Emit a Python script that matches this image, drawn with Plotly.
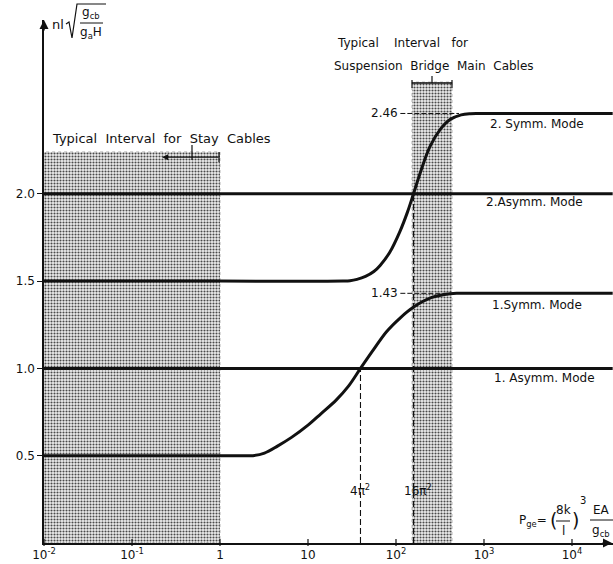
import numpy as np
import plotly.graph_objects as go

# ---------------- data ----------------
x_ticks = [0.01, 0.1, 1, 10, 100, 1000, 10000]
x_ticklabels = ["10<sup>-2</sup>", "10<sup>-1</sup>", "1", "10", "10<sup>2</sup>", "10<sup>3</sup>", "10<sup>4</sup>"]
y_ticks = [0.5, 1.0, 1.5, 2.0]
y_ticklabels = ["0.5", "1.0", "1.5", "2.0"]

# first asymmetric / second asymmetric modes (constant)
x_asym = [0.01, 29000]
y_asym1 = [1.0, 1.0]
y_asym2 = [2.0, 2.0]

# first symmetric mode
x_sym1 = [0.01, 1.0, 2.0, 2.37, 3.2, 4.5, 6.5, 10, 14, 21, 29, 39.5, 56, 78, 112, 157, 251, 411, 560, 29000]
y_sym1 = [0.5, 0.5, 0.5, 0.5, 0.515, 0.555, 0.605, 0.675, 0.74, 0.82, 0.90, 1.0, 1.11, 1.21, 1.29, 1.35, 1.405, 1.428, 1.43, 1.43]

# second symmetric mode
x_sym2 = [0.01, 1.0, 25, 30, 36, 45, 56, 66, 85, 111, 135, 158, 190, 243, 320, 411, 550, 700, 900, 29000]
y_sym2 = [1.5, 1.5, 1.5, 1.502, 1.51, 1.527, 1.555, 1.59, 1.665, 1.785, 1.895, 2.00, 2.125, 2.27, 2.37, 2.425, 2.452, 2.459, 2.46, 2.46]

# typical intervals
stay_interval = [0.01, 1.0]
stay_top = 2.24
susp_interval = [152, 433]
susp_top = 2.64

four_pi2 = 4 * np.pi ** 2
sixteen_pi2 = 16 * np.pi ** 2
sym1_limit = 1.43
sym2_limit = 2.46

# ---------------- layout geometry ----------------
W, H = 613, 564
L, R, T, B = 44, 0, 20, 21
X_RANGE = [-2, 4.466]
Y_RANGE = [0, (H - B - T) / 174.6]


def px(xp):
    return (xp - L) / (W - L - R)


def py(yp):
    return (H - B - yp) / (H - T - B)


FONT = "DejaVu Sans"
BLACK = "#111111"

fig = go.Figure()

# shaded intervals
pattern = dict(shape=".", size=3, solidity=0.4, fgcolor="#4a4a4a", bgcolor="#efefef", fillmode="replace")
for (xa, xb), top in [(stay_interval, stay_top), (susp_interval, susp_top)]:
    fig.add_trace(go.Scatter(
        x=[xa, xb, xb, xa, xa], y=[0, 0, top, top, 0],
        mode="lines", line=dict(width=0.6, color="#888888", dash="dot"),
        fill="toself", fillpattern=pattern, fillcolor="#bbbbbb",
        hoverinfo="skip", showlegend=False))

# dashed reference lines
dash_style = dict(color=BLACK, width=1.1, dash="6px,3px")
fig.add_trace(go.Scatter(x=[four_pi2, four_pi2], y=[0, y_asym1[0]], mode="lines",
                         line=dash_style, showlegend=False, hoverinfo="skip"))
fig.add_trace(go.Scatter(x=[sixteen_pi2, sixteen_pi2], y=[0, y_asym2[0]], mode="lines",
                         line=dash_style, showlegend=False, hoverinfo="skip"))
fig.add_trace(go.Scatter(x=[112, 520], y=[sym2_limit, sym2_limit], mode="lines",
                         line=dict(color=BLACK, width=1, dash="5px,2px"), showlegend=False, hoverinfo="skip"))
fig.add_trace(go.Scatter(x=[112, 420], y=[sym1_limit, sym1_limit], mode="lines",
                         line=dict(color=BLACK, width=1, dash="5px,2px"), showlegend=False, hoverinfo="skip"))

# mode curves
thick = dict(color=BLACK, width=3)
fig.add_trace(go.Scatter(x=x_asym, y=y_asym2, mode="lines", line=thick, showlegend=False))
fig.add_trace(go.Scatter(x=x_asym, y=y_asym1, mode="lines", line=thick, showlegend=False))
fig.add_trace(go.Scatter(x=x_sym1, y=y_sym1, mode="lines",
                         line=dict(color=BLACK, width=3, shape="spline", smoothing=1.0), showlegend=False))
fig.add_trace(go.Scatter(x=x_sym2, y=y_sym2, mode="lines",
                         line=dict(color=BLACK, width=3, shape="spline", smoothing=1.0), showlegend=False))

annotations = []


def txt(text, xp, yp, size=12, xanchor="center", yanchor="middle"):
    annotations.append(dict(text=text, x=px(xp), y=py(yp), xref="paper", yref="paper",
                            xanchor=xanchor, yanchor=yanchor, showarrow=False,
                            font=dict(family=FONT, size=size, color=BLACK)))


# mode labels
txt("2. Symm. Mode", 537, 124)
txt("2.Asymm. Mode", 534, 202)
txt("1.Symm. Mode", 537, 305)
txt("1. Asymm. Mode", 544, 378)

# limit values
for val in (sym2_limit, sym1_limit):
    annotations.append(dict(text=f"{val:.2f}", x=np.log10(110), y=val, xref="x", yref="y",
                            xanchor="right", yanchor="middle", showarrow=False,
                            font=dict(family=FONT, size=12, color=BLACK)))

# interval titles
txt("Typical  Interval  for  Stay  Cables", 50, 138, size=13, xanchor="left")
txt("Typical    Interval   for", 335, 43, xanchor="left")
txt("Suspension  Bridge  Main  Cables", 332, 66, xanchor="left")

# x markers
txt("4π<sup>2</sup>", 360, 490)
txt("16π<sup>2</sup>", 418, 490)

# x-axis title  P_ge = (8k/l)^3 EA/g_cb
txt("P<sub>ge</sub>=", 549, 521, size=12, xanchor="right")
txt("(", 553, 520, size=19)
txt("8k", 563, 510, size=12)
txt("l", 563, 531, size=12)
txt(")", 575, 520, size=19)
txt("3", 583, 500, size=10)
txt("EA", 601, 510, size=12)
txt("g<sub>cb</sub>", 601, 531, size=12)

# y-axis title  nl sqrt(g_cb / (g_a H))
txt("nl", 50, 24, size=13, xanchor="left")
txt("g<sub>cb</sub>", 91, 13, size=12)
txt("g<sub>a</sub>H", 91, 33, size=12)

# axis arrowheads
annotations.append(dict(x=px(W), y=py(H - B), xref="paper", yref="paper", ax=-12, ay=0,
                        showarrow=True, arrowhead=2, arrowsize=1.2, arrowwidth=1.5,
                        arrowcolor=BLACK, text=""))
annotations.append(dict(x=px(L), y=py(T), xref="paper", yref="paper", ax=0, ay=12,
                        showarrow=True, arrowhead=2, arrowsize=1.2, arrowwidth=1.5,
                        arrowcolor=BLACK, text=""))

# stay-cable bracket (arrow)
yb = stay_top - 0.03
annotations.append(dict(x=np.log10(0.22), y=yb, ax=np.log10(stay_interval[1]), ay=yb,
                        xref="x", yref="y", axref="x", ayref="y", showarrow=True,
                        arrowhead=2, arrowsize=1, arrowwidth=1.2, arrowcolor=BLACK, text=""))

fig.update_layout(annotations=annotations)

shapes = []


def seg(x0, y0, x1, y1, w=1.2):
    shapes.append(dict(type="line", xref="paper", yref="paper", x0=px(x0), y0=py(y0),
                       x1=px(x1), y1=py(y1), line=dict(color=BLACK, width=w)))


# fraction bars
seg(556, 521, 570, 521, 1)
seg(590, 520, 613, 520, 1)
seg(80, 23, 103, 23, 1)
# radical sign
shapes.append(dict(type="path", xref="paper", yref="paper",
                   path="M {},{} L {},{} L {},{} L {},{} L {},{}".format(
                       px(66), py(24), px(69), py(22), px(72), py(38), px(77), py(4), px(106), py(4)),
                   line=dict(color=BLACK, width=1.2)))
# stay bracket ticks
seg(192, 145, 192, 160, 1.2)
seg(219, 152, 219, 162, 1.2)
# suspension bracket
seg(412, 83, 452, 83, 1.5)
seg(412, 80, 412, 88, 1.2)
seg(452, 80, 452, 88, 1.2)
seg(432, 76, 432, 83, 1.2)
# x tick marks crossing the axis
for xt in x_ticks:
    lx = np.log10(xt)
    xp = L + (lx - X_RANGE[0]) / (X_RANGE[1] - X_RANGE[0]) * (W - L - R)
    seg(xp, H - B - 4, xp, H - B + 3, 1.2)

fig.update_layout(shapes=shapes)

fig.update_xaxes(type="log", range=X_RANGE, tickvals=x_ticks, ticktext=x_ticklabels,
                 showgrid=False, zeroline=False, showline=True, linecolor=BLACK, linewidth=1.5,
                 ticks="", tickfont=dict(family=FONT, size=12, color=BLACK), automargin=False)
fig.update_yaxes(range=Y_RANGE, tickvals=y_ticks, ticktext=y_ticklabels,
                 showgrid=False, zeroline=False, showline=True, linecolor=BLACK, linewidth=1.5,
                 ticks="outside", ticklen=5, tickwidth=1.2, tickcolor=BLACK,
                 tickfont=dict(family=FONT, size=12, color=BLACK), automargin=False)

fig.update_layout(width=W, height=H, margin=dict(l=L, r=R, t=T, b=B, autoexpand=False),
                  plot_bgcolor="white", paper_bgcolor="white", showlegend=False,
                  font=dict(family=FONT, size=12, color=BLACK))

fig.write_html("out.html", config={"displayModeBar": False},
               post_script="document.body.style.margin='0';document.body.style.padding='0';")
